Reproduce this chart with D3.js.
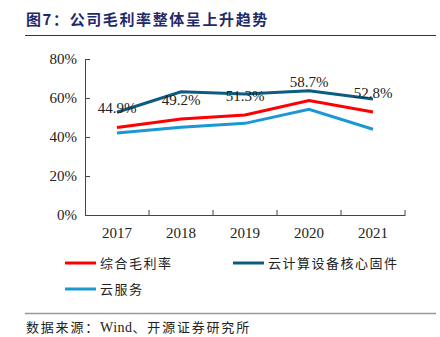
<!DOCTYPE html>
<html><head><meta charset="utf-8">
<script src="https://cdn.jsdelivr.net/npm/d3@7"></script>
<style>body{margin:0;background:#fff}</style>
</head><body>
<svg id="c" width="440" height="337"></svg>
<script>
const years = ["2017","2018","2019","2020","2021"];
const overall = [44.9, 49.2, 51.3, 58.7, 52.8];
const cloudHW = [52.7, 63.2, 62.0, 63.7, 59.5];
const cloudSvc = [42.0, 45.0, 47.0, 54.2, 44.0];
const yTicks = [0, 20, 40, 60, 80];
const seriesNames = ["综合毛利率", "云计算设备核心固件", "云服务"];
const colors = ["#FF0000", "#0B5C80", "#1B98D3"];

const svg = d3.select("#c");
const serif = "'Liberation Serif','Times New Roman',serif";
const cjk = "'Noto Sans CJK SC',sans-serif";

// title
svg.append("text").attr("x", 26).attr("y", 25).attr("fill", "#1F2A6B")
  .attr("font-family", cjk).attr("font-weight", "bold").attr("font-size", 15)
  .attr("letter-spacing", 1.6)
  .text("图7：公司毛利率整体呈上升趋势");
svg.append("line").attr("x1", 25).attr("x2", 436).attr("y1", 35.5).attr("y2", 35.5)
  .attr("stroke", "#333").attr("stroke-width", 1.2);

const x = d3.scaleBand().domain(years).range([85, 405]);
const y = d3.scaleLinear().domain([0, 80]).range([215, 59]);

const g = svg.append("g");
// y axis
const ya = g.append("g").attr("transform", "translate(85,0)")
  .call(d3.axisLeft(y).tickValues(yTicks).tickFormat(d => d + "%").tickSize(5).tickSizeOuter(0));
ya.select(".domain").attr("stroke", "#444");
ya.selectAll(".tick line").attr("stroke", "#444").attr("x2", 5).attr("x1", 0);
ya.selectAll("text").attr("font-family", serif).attr("font-size", 15).attr("fill", "#222").attr("x", -8);

// x axis
const xa = g.append("g").attr("transform", "translate(0,215)")
  .call(d3.axisBottom(x).tickSize(0).tickSizeOuter(0));
xa.select(".domain").attr("stroke", "#444");
xa.selectAll("text").attr("font-family", serif).attr("font-size", 15).attr("fill", "#222").attr("dy", "1.35em");
// boundary ticks (upward)
const bounds = years.map(d => x(d)).concat([x(years[years.length-1]) + x.bandwidth()]);
g.selectAll(".bt").data(bounds.slice(1)).enter().append("line")
  .attr("x1", d => d).attr("x2", d => d).attr("y1", 215).attr("y2", 210)
  .attr("stroke", "#444");

const line = d3.line().x((d, i) => x(years[i]) + x.bandwidth() / 2).y(d => y(d));
const all = [overall, cloudHW, cloudSvc];
[2, 0, 1].forEach(k => {
  g.append("path").datum(all[k]).attr("d", line).attr("fill", "none")
    .attr("stroke", colors[k]).attr("stroke-width", 3);
});

// labels
g.selectAll(".lbl").data(overall).enter().append("text")
  .attr("x", (d, i) => x(years[i]) + x.bandwidth() / 2)
  .attr("y", d => y(d) - 14)
  .attr("text-anchor", "middle").attr("font-family", serif).attr("font-size", 15).attr("fill", "#222")
  .text(d => d.toFixed(1) + "%");

// legend
const leg = [{i:0, x:65, y:263}, {i:1, x:233, y:263}, {i:2, x:65, y:289}];
leg.forEach(l => {
  svg.append("line").attr("x1", l.x).attr("x2", l.x + 31).attr("y1", l.y).attr("y2", l.y)
    .attr("stroke", colors[l.i]).attr("stroke-width", 3);
  svg.append("text").attr("x", l.x + 35).attr("y", l.y + 5).attr("font-family", cjk)
    .attr("font-size", 13).attr("fill", "#222").attr("letter-spacing", 1.5).text(seriesNames[l.i]);
});

svg.append("line").attr("x1", 25).attr("x2", 436).attr("y1", 313.5).attr("y2", 313.5)
  .attr("stroke", "#999").attr("stroke-width", 1.5);
const src = svg.append("text").attr("x", 26).attr("y", 332).attr("font-family", cjk).attr("font-size", 13)
  .attr("fill", "#222").attr("letter-spacing", 1.8);
src.append("tspan").text("数据来源：");
src.append("tspan").attr("font-family", serif).attr("font-size", 14).attr("letter-spacing", 0.5).text("Wind");
src.append("tspan").text("、开源证券研究所");
</script>
</body></html>
